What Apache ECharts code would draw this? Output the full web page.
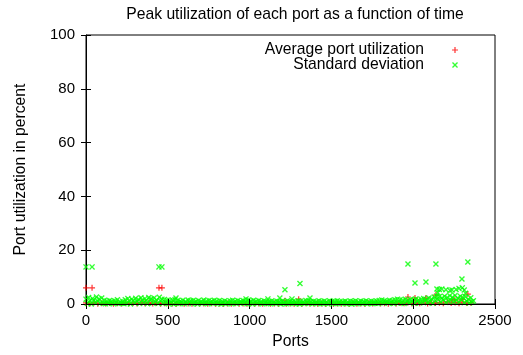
<!DOCTYPE html>
<html>
<head>
<meta charset="utf-8">
<script src="https://cdn.jsdelivr.net/npm/echarts@6/dist/echarts.min.js"></script>
<style>
  html, body { margin: 0; padding: 0; background: #fff; }
  #chart { width: 523px; height: 355px; }
</style>
</head>
<body>
<div id="chart"></div>
<script>
// dense band of per-port values, one value every STEP ports
const STD_STEP = 8;
const stdBand = [
  1.8, 0.2, 2.4, 1.2, 0.0, 2.0, 1.5, 0.6, 2.6, 1.0,
  1.9, 0.4, 2.2, 0.3, 1.4, 0.1, 1.1, 0.2, 1.3, 0.7,
  0.9, 0.1, 1.2, 0.5, 1.6, 0.2, 0.8, 0.3, 1.0, 0.1,
  1.6, 0.3, 2.0, 1.1, 0.0, 1.8, 1.3, 0.5, 2.1, 0.9,
  1.7, 0.2, 2.3, 1.4, 0.6, 2.0, 1.2, 0.1, 2.4, 1.6,
  1.9, 0.4, 2.2, 0.8, 1.5, 0.2, 2.5, 1.1, 1.8, 0.3,
  1.7, 0.5, 1.4, 0.1, 1.2, 0.6, 1.5, 0.0, 1.6, 0.3,
  1.3, 0.2, 1.0, 0.6, 1.4, 0.1, 0.9, 0.4, 1.5, 0.7,
  1.2, 0.1, 1.4, 0.5, 1.0, 0.0, 1.3, 0.6, 0.9, 0.3,
  1.5, 0.4, 1.1, 0.1, 1.3, 0.6, 1.0, 0.2, 1.4, 0.5,
  1.1, 0.2, 1.3, 0.0, 0.9, 0.5, 1.2, 0.1, 0.8, 0.4,
  1.2, 0.1, 1.4, 0.5, 1.0, 0.2, 1.3, 0.4, 0.9, 0.6,
  1.3, 0.3, 1.0, 0.1, 1.5, 0.5, 1.1, 0.0, 1.4, 0.6,
  1.0, 0.2, 1.3, 0.5, 0.9, 0.1, 1.2, 0.4, 0.8, 0.2,
  0.9, 0.1, 1.2, 0.4, 0.8, 0.2, 1.0, 0.5, 0.9, 0.0,
  1.1, 0.3, 0.8, 0.1, 1.2, 0.2, 0.9, 0.5, 0.8, 0.2,
  0.9, 0.2, 1.2, 0.0, 1.0, 0.4, 0.8, 0.2, 1.3, 0.5,
  1.2, 0.3, 0.9, 0.1, 1.0, 0.5, 0.8, 0.2, 1.2, 0.1,
  0.9, 0.2, 1.1, 0.4, 0.8, 0.0, 1.2, 0.5, 0.9, 0.2,
  1.0, 0.1, 1.2, 0.4, 0.9, 0.2, 0.8, 0.5, 1.1, 0.1,
  0.8, 0.2, 1.1, 0.0, 0.9, 0.4, 1.2, 0.1, 0.8, 0.4,
  1.1, 0.2, 0.9, 0.5, 1.2, 0.1, 0.8, 0.4, 1.1, 0.2,
  0.9, 0.3, 1.1, 0.2, 1.3, 0.5, 1.5, 0.4, 1.2, 0.7,
  1.0, 0.3, 1.4, 0.6, 1.2, 0.2, 1.6, 0.5, 1.8, 0.8,
  1.6, 0.4, 1.4, 0.2, 1.8, 0.9, 1.3, 0.5, 1.7, 0.8,
  1.5, 0.3, 1.9, 1.0, 1.4, 0.4, 1.8, 0.7, 2.0, 1.2,
  1.6, 0.5, 2.2, 0.9, 1.9, 0.3, 2.6, 1.3, 3.0, 1.6,
  2.8, 0.8, 2.2, 1.5, 2.9, 0.6, 2.4, 1.1, 3.1, 1.4,
  2.5, 0.9, 3.2, 1.3, 2.2, 0.7, 2.9, 1.6, 2.4, 0.5,
  2.7, 1.0, 1.8, 0.4, 2.3, 0.8, 1.2
];
const stdOutliers = [
  [0, 13.8], [37, 13.8], [446, 13.8], [464, 13.8], [550, 2.2],
  [978, 1.9], [1112, 1.9], [1185, 2.2], [1216, 5.3], [1259, 1.9],
  [1308, 7.6], [1369, 2.2], [1968, 14.9], [2011, 7.8], [2078, 8.2],
  [2139, 14.9], [2145, 5.6], [2160, 5.4], [2175, 5.6], [2200, 5.3],
  [2225, 5.0], [2237, 5.2], [2262, 5.4], [2280, 5.8], [2298, 9.3],
  [2300, 6.0], [2312, 5.2], [2334, 15.6], [2150, 4.2], [2320, 4.0]
];

const AVG_STEP = 24;
const avgBand = [
  0.4, 0.2, 0.5, 0.1, 0.3, 0.2, 0.4, 0.1, 0.3, 0.2,
  0.5, 0.3, 0.4, 0.2, 0.6, 0.3, 0.5, 0.2, 0.4, 0.1,
  0.3, 0.2, 0.2, 0.1, 0.3, 0.1, 0.2, 0.1, 0.3, 0.2,
  0.2, 0.1, 0.3, 0.1, 0.2, 0.1, 0.2, 0.1, 0.3, 0.1,
  0.2, 0.1, 0.3, 0.2, 0.2, 0.1, 0.3, 0.1, 0.2, 0.1,
  0.3, 0.1, 0.2, 0.1, 0.2, 0.1, 0.3, 0.2, 0.2, 0.1,
  0.2, 0.1, 0.3, 0.1, 0.2, 0.1, 0.2, 0.1, 0.3, 0.1,
  0.2, 0.1, 0.3, 0.2, 0.4, 0.2, 0.3, 0.1, 0.5, 0.2,
  0.4, 0.3, 0.6, 0.2, 0.5, 0.3, 0.7, 0.2, 0.6, 0.4,
  0.5, 0.3, 0.8, 0.4, 0.6, 0.3, 0.7, 0.4, 0.5
];
const avgOutliers = [
  [0, 6.0], [37, 6.0], [446, 6.0], [464, 6.0], [1216, 1.2],
  [1300, 1.8], [1968, 2.6], [2011, 2.2], [2078, 2.2], [2139, 3.3],
  [2237, 1.5], [2255, 1.5], [2298, 1.8], [2334, 3.7]
];

const xTicks = [0, 500, 1000, 1500, 2000, 2500];
const yTicks = [0, 20, 40, 60, 80, 100];

const PLUS = 'path://M4,0h2v4h4v2h-4v4h-2v-4h-4v-2h4z';
const CROSS = 'path://M0,1.6L1.6,0L5,3.4L8.4,0L10,1.6L6.6,5L10,8.4L8.4,10L5,6.6L1.6,10L0,8.4L3.4,5z';
const FONT = 'Liberation Sans';
const TEXT_SIZE = 15.7;
const TICK_SIZE = 15;

const avgData = avgBand.map((v, i) => [i * AVG_STEP, v]).concat(avgOutliers);
const stdData = stdBand.map((v, i) => [i * STD_STEP, v]).concat(stdOutliers);

const chart = echarts.init(document.getElementById('chart'));

const tickStyle = { inside: true, length: 5, lineStyle: { color: '#000' } };
const xRange = { min: xTicks[0], max: xTicks[xTicks.length - 1], interval: xTicks[1] - xTicks[0] };
const yRange = { min: yTicks[0], max: yTicks[yTicks.length - 1], interval: yTicks[1] - yTicks[0] };
const plain = v => String(v);

chart.setOption({
  animation: false,
  textStyle: { fontFamily: FONT },
  title: {
    text: 'Peak utilization of each port as a function of time',
    left: 290,
    top: 2,
    textAlign: 'center',
    textStyle: { fontFamily: FONT, fontSize: TEXT_SIZE, fontWeight: 'normal', color: '#000' }
  },
  legend: [
    {
      data: [{ name: 'Average port utilization', icon: PLUS }],
      right: 60, top: 37, align: 'right',
      itemWidth: 52, itemHeight: 6,
      textStyle: { fontFamily: FONT, fontSize: TEXT_SIZE, color: '#000' }
    },
    {
      data: [{ name: 'Standard deviation', icon: CROSS }],
      right: 60, top: 52, align: 'right',
      itemWidth: 52, itemHeight: 6,
      textStyle: { fontFamily: FONT, fontSize: TEXT_SIZE, color: '#000' }
    }
  ],
  grid: {
    left: 86, right: 28, top: 35, bottom: 51,
    show: true, borderColor: '#000', borderWidth: 1
  },
  xAxis: [
    {
      type: 'value', ...xRange, z: 5,
      name: 'Ports', nameLocation: 'middle', nameGap: 30,
      nameTextStyle: { fontFamily: FONT, fontSize: TEXT_SIZE, color: '#000' },
      axisLine: { show: true, lineStyle: { color: '#000' } },
      axisTick: tickStyle,
      axisLabel: { margin: 9, fontFamily: FONT, fontSize: TICK_SIZE, color: '#000', formatter: plain },
      splitLine: { show: false }
    },
    {
      type: 'value', ...xRange, position: 'top',
      axisLine: { show: false },
      axisTick: tickStyle,
      axisLabel: { show: false },
      splitLine: { show: false }
    }
  ],
  yAxis: [
    {
      type: 'value', ...yRange,
      name: 'Port utilization in percent', nameLocation: 'middle', nameGap: 57,
      nameTextStyle: { fontFamily: FONT, fontSize: TEXT_SIZE, color: '#000' },
      axisLine: { show: true, lineStyle: { color: '#000' } },
      axisTick: tickStyle,
      axisLabel: { margin: 11, fontFamily: FONT, fontSize: TICK_SIZE, color: '#000', formatter: plain },
      splitLine: { show: false }
    },
    {
      type: 'value', ...yRange, position: 'right',
      axisLine: { show: false },
      axisTick: tickStyle,
      axisLabel: { show: false },
      splitLine: { show: false }
    }
  ],
  series: [
    {
      name: 'Average port utilization',
      type: 'scatter',
      symbol: PLUS,
      symbolSize: 6,
      itemStyle: { color: '#ff0000' },
      data: avgData
    },
    {
      name: 'Standard deviation',
      type: 'scatter',
      symbol: CROSS,
      symbolSize: 6,
      itemStyle: { color: '#00ff00' },
      data: stdData
    }
  ]
});
</script>
</body>
</html>
